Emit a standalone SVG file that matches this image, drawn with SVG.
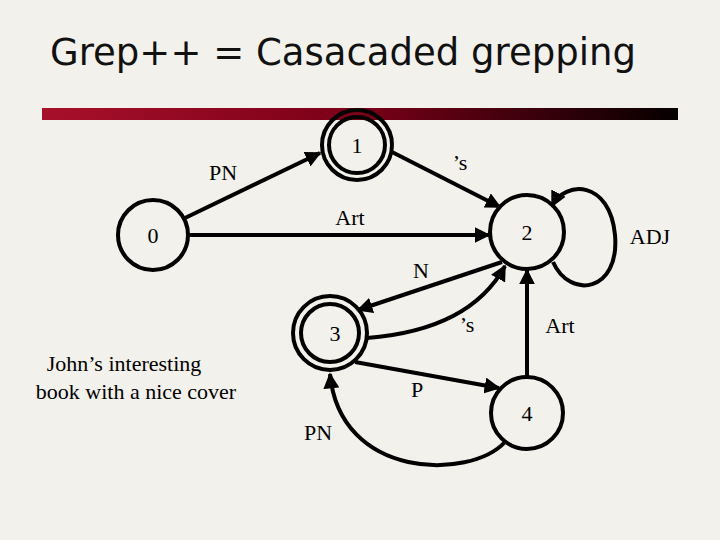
<svg xmlns="http://www.w3.org/2000/svg" width="720" height="540" viewBox="0 0 720 540">
<defs>
<linearGradient id="bar" x1="0" x2="1" y1="0" y2="0"><stop offset="0" stop-color="#a8102a"/><stop offset="0.5" stop-color="#7a0018"/><stop offset="1" stop-color="#050000"/></linearGradient>
<marker id="ah" viewBox="0 0 10 10" refX="9" refY="5" markerWidth="4" markerHeight="4" orient="auto"><path d="M0,0 L10,5 L0,10 z" fill="#000"/></marker>
<style>
.n{fill:none;stroke:#000;stroke-width:4}
.e{fill:none;stroke:#000;stroke-width:4;marker-end:url(#ah)}
.t{font-family:"Liberation Serif",serif;font-size:22px;fill:#000}
.c{text-anchor:middle}
</style>
</defs>
<rect width="720" height="540" fill="#f2f1ec"/>
<text x="50" y="65" font-family="DejaVu Sans,sans-serif" font-size="37" textLength="586" fill="#111">Grep++ = Casacaded grepping</text>
<rect x="42" y="108" width="636" height="12" fill="url(#bar)"/>
<g id="connectors">
<line class="e" x1="185" y1="218" x2="320" y2="153"/>
<line class="e" x1="392" y1="152" x2="500" y2="207"/>
<line class="e" x1="188" y1="235" x2="489" y2="235"/>
<path class="e" d="M553,262 C570,300 620,292 615,235 C610,180 565,180 552,206"/>
<line class="e" x1="502" y1="262" x2="358" y2="310"/>
<path class="e" d="M367,338 Q470,330 505,266"/>
<line class="e" x1="527" y1="377" x2="527" y2="270"/>
<line class="e" x1="355" y1="362" x2="499" y2="388"/>
<path class="e" d="M505,442 C470,480 340,480 330,374"/>
<g class="t">
<text x="223" y="180" class="c">PN</text>
<text x="460" y="170" class="c">’s</text>
<text x="350" y="225" class="c">Art</text>
<text x="650" y="244" class="c">ADJ</text>
<text x="421" y="278" class="c">N</text>
<text x="467" y="332" class="c">’s</text>
<text x="560" y="333" class="c">Art</text>
<text x="417" y="397" class="c">P</text>
<text x="318" y="440" class="c">PN</text>
</g>
</g>
<g id="n0"><circle class="n" cx="153" cy="235" r="35"/><text class="t c" x="153" y="243">0</text></g>
<g id="n1"><circle class="n" cx="357" cy="145" r="35" stroke-width="3"/><circle class="n" cx="357" cy="145" r="28" stroke-width="3"/><text class="t c" x="357" y="153">1</text></g>
<g id="n2"><circle class="n" cx="527" cy="232" r="37"/><text class="t c" x="527" y="240">2</text></g>
<g id="n3"><circle class="n" cx="330" cy="333" r="37" stroke-width="3"/><circle class="n" cx="330" cy="333" r="29" stroke-width="3"/><text class="t c" x="335" y="341">3</text></g>
<g id="n4"><circle class="n" cx="527" cy="413" r="36"/><text class="t c" x="527" y="421">4</text></g>
<g id="note" class="t"><text x="124" y="371" class="c">John’s interesting</text><text x="136" y="399" class="c">book with a nice cover</text></g>
</svg>
